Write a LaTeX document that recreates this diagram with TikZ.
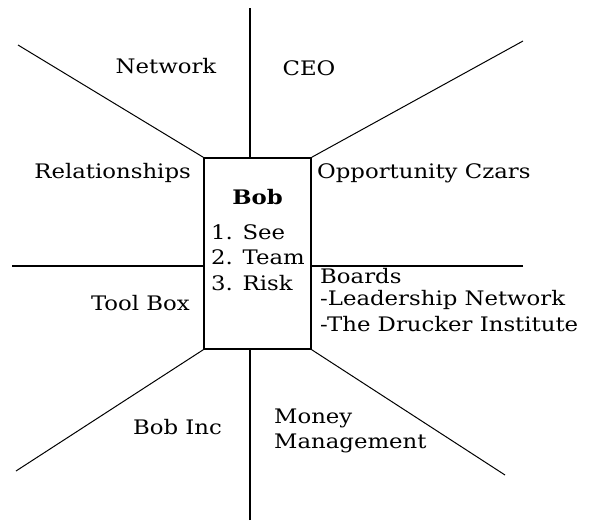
\documentclass[tikz,border=0pt]{standalone}
\usepackage{fontspec}
\setmainfont{DejaVu Serif}[FakeStretch=1.14]
\begin{document}
\begin{tikzpicture}[x=1pt,y=-1pt,
  every node/.style={font=\fontsize{20}{24}\selectfont, inner sep=0pt},
  ray/.style={draw=black, line width=1.5pt},
  diag/.style={draw=black, line width=1pt},
  centerbox/.style={draw=black, line width=1.5pt, minimum width=107pt, minimum height=191pt},
  lbl/.style={text=black}]
\useasboundingbox (0,0) rectangle (589,520);
\node[centerbox] (bob) at (257.5,253.5) {};
% free ends
\coordinate (ctop) at (250,8);
\coordinate (cbot) at (250,520);
\coordinate (tl) at (18,45);
\coordinate (tr) at (523,41);
\coordinate (bl) at (16,471);
\coordinate (br) at (505,475);
\coordinate (ml) at (12,266);
\coordinate (mr) at (523,266);
\draw[ray] (ctop) -- (ctop |- bob.north);
\draw[ray] (cbot) -- (cbot |- bob.south);
\draw[diag] (tl) -- (bob.north west);
\draw[diag] (tr) -- (bob.north east);
\draw[diag] (bl) -- (bob.south west);
\draw[diag] (br) -- (bob.south east);
\draw[ray] (ml) -- (ml -| bob.west);
\draw[ray] (mr) -- (mr -| bob.east);
% labels
\node[lbl] (network) at (166,66) {Network};
\node[lbl] (ceo) at (309,68) {CEO};
\node[lbl, anchor=east] (rel) at (191,173) {Relationships};
\node[lbl, anchor=west] (opp) at (317,173) {Opportunity Czars};
\node[lbl] (bobt) at (257.5,197) {\bfseries Bob};
\node[lbl, anchor=west] (l1) at (211,232) {1. See};
\node[lbl, anchor=west] (l2) at (211,257) {2. Team};
\node[lbl, anchor=west] (l3) at (211,283) {3. Risk};
\node[lbl, anchor=east] (tool) at (190,303) {Tool Box};
\node[lbl, anchor=west] (b1) at (320,276) {Boards};
\node[lbl, anchor=west] (b2) at (320,300) {-Leadership Network};
\node[lbl, anchor=west] (b3) at (320,324) {-The Drucker Institute};
\node[lbl] (bobinc) at (177.5,427) {Bob Inc};
\node[lbl, anchor=west] (m1) at (274,418) {Money};
\node[lbl, anchor=west] (m2) at (274,443) {Management};
\end{tikzpicture}
\end{document}
